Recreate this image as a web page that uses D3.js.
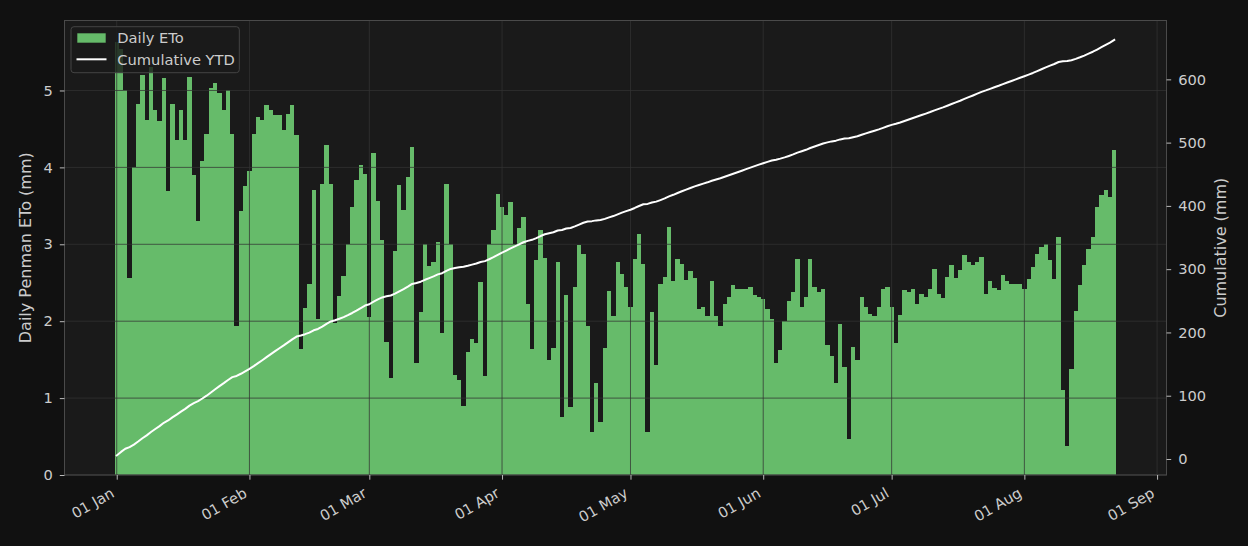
<!DOCTYPE html>
<html>
<head>
<meta charset="utf-8">
<script src="https://cdn.jsdelivr.net/npm/d3@7/dist/d3.min.js"></script>
<style>
  html, body { margin: 0; padding: 0; background: #111111; }
  svg { display: block; }
  text { font-family: "DejaVu Sans", sans-serif; }
</style>
</head>
<body>
<svg id="chart" width="1248" height="546"></svg>
<script>
// ---- data (daily Penman ETo, mm) ----
const startDate = "2025-01-01";
const etoJan = [5.63,5.54,5.00,2.56,4.00,4.83,5.20,4.61,5.30,4.74,4.60,5.16,3.69,4.83,4.36,4.74,4.36,5.18,3.90,3.30,4.08,4.44,5.03,5.10,4.97,4.74,5.01,4.44,1.94,3.43,3.76];
const etoFeb = [3.95,4.43,4.66,4.62,4.81,4.74,4.68,4.68,4.48,4.70,4.81,4.42,1.64,2.17,2.48,3.71,2.03,3.79,4.29,3.79,1.98,2.33,2.59,3.00,3.49,3.83,4.03,3.91];
const etoMar = [2.06,4.19,3.56,3.05,1.73,1.26,2.91,3.77,3.45,3.88,4.26,1.45,2.12,3.01,2.72,2.77,3.03,1.85,3.79,3.01,1.30,1.23,0.90,1.60,1.77,1.71,2.51,1.29,3.01,3.19,3.65];
const etoApr = [3.48,3.38,3.55,3.00,3.21,3.36,2.22,1.64,2.79,3.19,2.82,1.50,1.65,2.77,0.76,2.34,0.89,2.45,2.99,2.88,1.94,0.56,1.19,0.69,1.65,2.39,2.07,2.77,2.62,2.44];
const etoMay = [2.19,2.81,3.13,2.75,0.56,2.12,1.43,2.48,2.58,3.23,2.52,2.81,2.75,2.53,2.65,2.56,2.16,2.18,2.07,2.52,2.07,1.94,2.23,2.32,2.47,2.42,2.42,2.42,2.45,2.34,2.31];
const etoJun = [2.29,2.16,2.03,1.45,1.62,2.00,2.26,2.38,2.81,2.18,2.31,2.81,2.44,2.38,2.42,1.69,1.55,1.19,1.96,1.40,0.47,1.66,1.50,2.32,2.19,2.10,2.07,2.18,2.42,2.44];
const etoJul = [2.18,1.71,2.08,2.40,2.38,2.42,2.22,2.36,2.32,2.42,2.68,2.36,2.30,2.58,2.73,2.56,2.66,2.86,2.77,2.73,2.77,2.83,2.35,2.52,2.43,2.40,2.60,2.52,2.48,2.49,2.49];
const etoAug = [2.42,2.55,2.70,2.88,2.97,3.01,2.79,2.55,3.10,1.11,0.38,1.38,2.13,2.47,2.73,2.94,3.10,3.49,3.64,3.70,3.61,4.22];
const xTickDates = ["2025-01-01","2025-02-01","2025-03-01","2025-04-01","2025-05-01","2025-06-01","2025-07-01","2025-08-01","2025-09-01"];
const xTickLabels = ["01 Jan","01 Feb","01 Mar","01 Apr","01 May","01 Jun","01 Jul","01 Aug","01 Sep"];
const yTicks = [0,1,2,3,4,5];
const y2Ticks = [0,100,200,300,400,500,600];
const seriesNames = ["Daily ETo","Cumulative YTD"];

// ---- build table ----
const DAY = 864e5;
const eto = [].concat(etoJan, etoFeb, etoMar, etoApr, etoMay, etoJun, etoJul, etoAug);
const t0 = new Date(startDate + "T00:00:00Z");
const cum = Array.from(d3.cumsum(eto));
const rows = eto.map((v, i) => ({ date: new Date(t0.getTime() + i * DAY), v, c: cum[i] }));

// ---- layout ----
const L = 64.5, R = 1166.5, T = 20.5, B = 475;
const svg = d3.select("#chart");
const green = "#66bb6a";
const txt = "#cccccc";

const x = d3.scaleUtc()
  .domain([new Date(t0.getTime() - 12.2 * DAY), new Date(t0.getTime() + 245.2 * DAY)])
  .range([L, R]);
const y = d3.scaleLinear().domain([0, 5.91]).range([B, T]);
const y2 = d3.scaleLinear().domain([-25.3, 693]).range([B, T]);

svg.append("rect").attr("width", 1248).attr("height", 546).attr("fill", "#111111");
svg.append("rect").attr("x", L).attr("y", T).attr("width", R - L).attr("height", B - T).attr("fill", "#1a1a1a");

// bars
const x0 = d => x(new Date(d.date.getTime() - 0.5 * DAY));
const x1 = d => x(new Date(d.date.getTime() + 0.5 * DAY));
svg.append("g").attr("shape-rendering", "crispEdges")
  .selectAll("rect").data(rows).join("rect")
  .attr("x", d => Math.round(x0(d)))
  .attr("width", d => Math.round(x1(d)) - Math.round(x0(d)))
  .attr("y", d => y(d.v))
  .attr("height", d => y(0) - y(d.v))
  .attr("fill", green);

// grid
const tickDates = xTickDates.map(s => new Date(s + "T00:00:00Z"));
const grid = svg.append("g").attr("stroke", "#333333").attr("stroke-opacity", 0.75).attr("stroke-width", 1);
grid.selectAll("line.h").data(yTicks).join("line")
  .attr("x1", L).attr("x2", R).attr("y1", d => y(d)).attr("y2", d => y(d));
grid.selectAll("line.v").data(tickDates.filter(d => x(d) < R)).join("line")
  .attr("x1", d => x(d)).attr("x2", d => x(d)).attr("y1", T).attr("y2", B);

// cumulative line
svg.append("path").datum(rows)
  .attr("fill", "none").attr("stroke", "#ffffff").attr("stroke-width", 2)
  .attr("stroke-linejoin", "round").attr("stroke-linecap", "square")
  .attr("d", d3.line().x(d => x(d.date)).y(d => y2(d.c)));

// spines
svg.append("rect").attr("x", L).attr("y", T).attr("width", R - L).attr("height", B - T)
  .attr("fill", "none").attr("stroke", "#4a4a4a").attr("stroke-width", 1);

// axes
const tickLen = 4.7, tickCol = "#bbbbbb", fs = "14.67px";
const gl = svg.append("g").attr("transform", `translate(${L},0)`)
  .call(d3.axisLeft(y).tickValues(yTicks).tickSize(tickLen).tickPadding(7).tickFormat(d3.format("d")));
const gr = svg.append("g").attr("transform", `translate(${R},0)`)
  .call(d3.axisRight(y2).tickValues(y2Ticks).tickSize(tickLen).tickPadding(7).tickFormat(d3.format("d")));
const gb = svg.append("g").attr("transform", `translate(0,${B})`)
  .call(d3.axisBottom(x).tickValues(tickDates).tickSize(tickLen).tickFormat((d, i) => xTickLabels[i]));
[gl, gr, gb].forEach(g => {
  g.select(".domain").remove();
  g.selectAll(".tick line").attr("stroke", tickCol);
  g.selectAll(".tick text").attr("fill", txt).style("font-size", fs).style("font-family", "DejaVu Sans");
});
gb.selectAll(".tick text")
  .attr("text-anchor", "end")
  .attr("dy", null)
  .attr("y", 0)
  .attr("transform", "translate(-2,21) rotate(-30)");

// axis titles
svg.append("text").attr("transform", `translate(31,${(T + B) / 2}) rotate(-90)`)
  .attr("text-anchor", "middle").attr("fill", txt).style("font-size", "16px")
  .text("Daily Penman ETo (mm)");
svg.append("text").attr("transform", `translate(1226,${(T + B) / 2}) rotate(-90)`)
  .attr("text-anchor", "middle").attr("fill", txt).style("font-size", "16px")
  .text("Cumulative (mm)");

// legend
const lg = svg.append("g");
lg.append("rect").attr("x", 71).attr("y", 26.7).attr("width", 168.3).attr("height", 46).attr("rx", 3)
  .attr("fill", "#1a1a1a").attr("fill-opacity", 0.8).attr("stroke", "#444444").attr("stroke-width", 1);
lg.append("rect").attr("x", 77.3).attr("y", 33.3).attr("width", 28.4).attr("height", 9.4).attr("fill", green);
lg.append("line").attr("x1", 76.5).attr("x2", 106.5).attr("y1", 59.3).attr("y2", 59.3)
  .attr("stroke", "#ffffff").attr("stroke-width", 2);
lg.selectAll("text").data(seriesNames).join("text")
  .attr("x", 117.3).attr("y", (d, i) => 43 + i * 22)
  .attr("fill", txt).style("font-size", fs).text(d => d);
</script>
</body>
</html>
